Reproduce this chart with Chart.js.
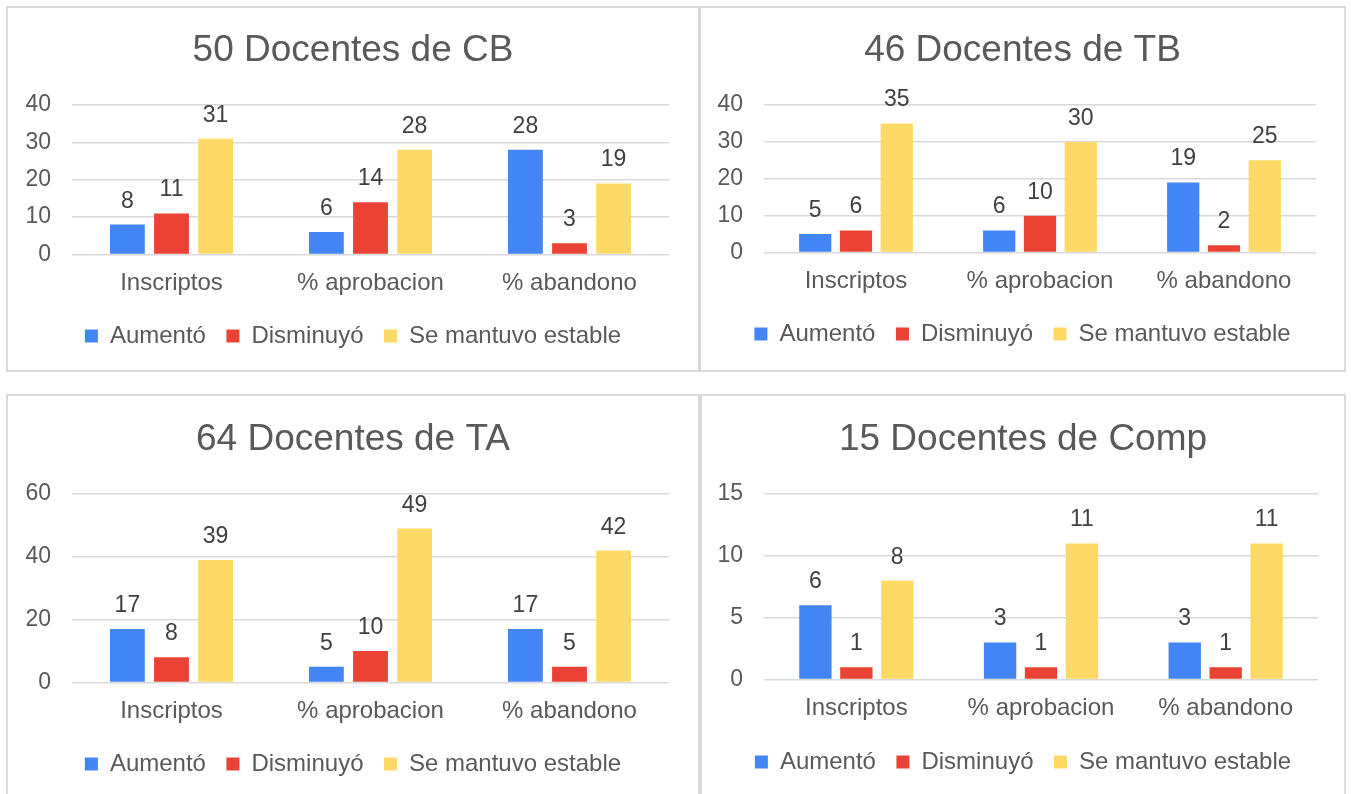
<!DOCTYPE html>
<html>
<head>
<meta charset="utf-8">
<script src="https://cdn.jsdelivr.net/npm/chart.js@4"></script>
<style>
  html, body { margin: 0; padding: 0; background: #fff; width: 1351px; height: 794px; overflow: hidden; }
  .panel { position: absolute; box-sizing: border-box; border: 2px solid #d9d9d9; background: #fff; }
  .panel canvas { display: block; }
</style>
</head>
<body>
<div class="panel" style="left:6px;top:6px;width:694px;height:366px"><canvas id="c0" width="690" height="362"></canvas></div>
<div class="panel" style="left:699px;top:6px;width:647px;height:366px"><canvas id="c1" width="643" height="362"></canvas></div>
<div class="panel" style="left:6px;top:394px;width:694px;height:410px"><canvas id="c2" width="690" height="406"></canvas></div>
<div class="panel" style="left:700px;top:394px;width:646px;height:410px"><canvas id="c3" width="642" height="406"></canvas></div>
<script>
const categories  = ['Inscriptos', '% aprobacion', '% abandono'];
const seriesNames = ['Aumentó', 'Disminuyó', 'Se mantuvo estable'];

const cbUp   = [8, 6, 28];
const cbDown = [11, 14, 3];
const cbSame = [31, 28, 19];

const tbUp   = [5, 6, 19];
const tbDown = [6, 10, 2];
const tbSame = [35, 30, 25];

const taUp   = [17, 5, 17];
const taDown = [8, 10, 5];
const taSame = [39, 49, 42];

const compUp   = [6, 3, 3];
const compDown = [1, 1, 1];
const compSame = [8, 11, 11];

const titles = ['50 Docentes de CB', '46 Docentes de TB', '64 Docentes de TA', '15 Docentes de Comp'];
const yMax   = [40, 40, 60, 15];
const ySteps = [10, 10, 20, 5];

const colors = ['#4285F4', '#EA4335', '#FFD966'];
const font   = '"Liberation Sans", Arial, sans-serif';
const txt    = '#595959';

// per-panel spacing so the plot areas line up with the reference
// rW = width of an empty right axis, keeps title/legend centred on the panel
const boxes = [
  { pad: 16, rW: 13, padB: 12, tTop: 20.8, tBot: 31.8, yW: 48, xH: 49 },
  { pad: 15, rW: 13, padB: 14, tTop: 20.8, tBot: 31.8, yW: 48, xH: 49 },
  { pad: 16, rW: 13, padB: 16, tTop: 21.8, tBot: 31.8, yW: 48, xH: 49 },
  { pad: 14, rW: 12, padB: 18, tTop: 21.8, tBot: 31.8, yW: 48, xH: 50 },
];

const valueLabels = {
  id: 'valueLabels',
  afterDatasetsDraw(chart) {
    const ctx = chart.ctx;
    ctx.save();
    ctx.font = '23px ' + font;
    ctx.fillStyle = '#404040';
    ctx.textAlign = 'center';
    ctx.textBaseline = 'alphabetic';
    chart.data.datasets.forEach((ds, i) => {
      chart.getDatasetMeta(i).data.forEach((bar, j) => {
        ctx.fillText(ds.data[j], bar.x, bar.y - 17);
      });
    });
    ctx.restore();
  }
};

function makeChart(i, series) {
  const b = boxes[i];
  return new Chart(document.getElementById('c' + i), {
    type: 'bar',
    data: {
      labels: categories,
      datasets: series.map((s, k) => ({
        label: seriesNames[k], data: s, backgroundColor: colors[k],
        categoryPercentage: 0.665, barPercentage: 0.79
      }))
    },
    options: {
      responsive: false, animation: false,
      layout: { padding: { top: 0, left: b.pad, right: b.pad, bottom: b.padB } },
      plugins: {
        title: { display: true, text: titles[i], color: txt, font: { family: font, size: 37, weight: 'normal' }, padding: { top: b.tTop, bottom: b.tBot } },
        legend: { position: 'bottom', labels: { color: txt, font: { family: font, size: 24 }, boxWidth: 13, boxHeight: 13, padding: 20.5 } },
        tooltip: { enabled: false }
      },
      scales: {
        x: {
          grid: { display: false, drawTicks: false }, border: { display: false },
          ticks: { color: txt, font: { family: font, size: 24 }, padding: 14.5 },
          afterFit: s => { s.height = b.xH; }
        },
        y: {
          min: 0, max: yMax[i],
          grid: { color: '#d9d9d9', lineWidth: 1.5, drawTicks: false }, border: { display: false },
          ticks: { stepSize: ySteps[i], color: txt, font: { family: font, size: 23 }, padding: 21 },
          afterFit: s => { s.width = b.yW; }
        },
        yr: {
          type: 'linear', position: 'right',
          grid: { display: false, drawTicks: false }, border: { display: false },
          ticks: { display: false },
          afterFit: s => { s.width = b.rW; }
        }
      }
    },
    plugins: [valueLabels]
  });
}

makeChart(0, [cbUp, cbDown, cbSame]);
makeChart(1, [tbUp, tbDown, tbSame]);
makeChart(2, [taUp, taDown, taSame]);
makeChart(3, [compUp, compDown, compSame]);
</script>
</body>
</html>
